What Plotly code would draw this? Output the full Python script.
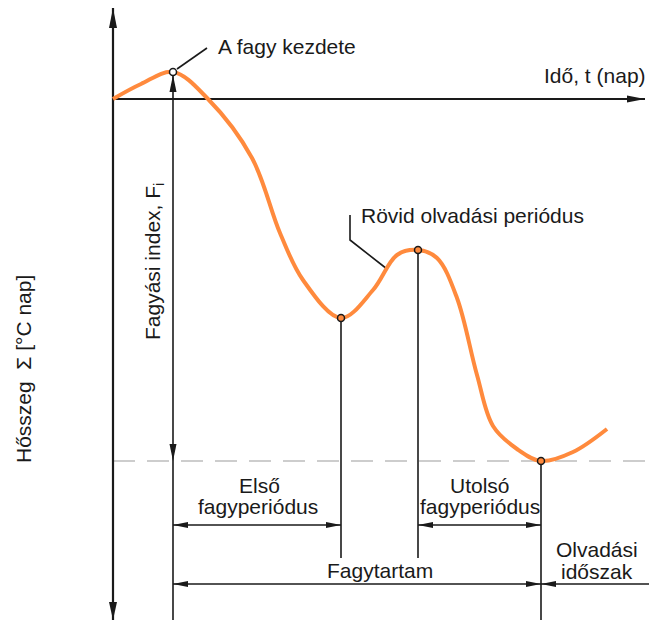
import plotly.graph_objects as go

# ---------------- data (time t in days, heat sum in °C·days) ----------------
curve_t = [0, 7, 15, 23.75, 34.75, 41.75, 47.5, 57, 65, 71, 76.25, 81, 86, 91, 95, 101, 107,
           115, 123.5]
curve_s = [0, 7.5, 13.5, 0, -29.5, -67, -90.5, -109.5, -95.5, -78, -75.5, -79.5, -99.5, -138,
           -163.5, -175, -181, -176.5, -165]

# key events: frost start, end of first frost period, top of short thaw, deepest point
event_names = ["A fagy kezdete", "first_min", "thaw_peak", "season_min"]
event_t = [15, 57, 76.25, 107]
event_s = [13.5, -109.5, -75.5, -181]

# ---------------- layout constants ----------------
PX_PER_T = 4.0
PX_PER_S = 2.0
X_RANGE = [-113 / PX_PER_T, (649 - 113) / PX_PER_T]
Y_RANGE = [(99 - 623) / PX_PER_S, 99 / PX_PER_S]

Y_AXIS_TOP = 45.5
Y_AXIS_BOT = -260.5
X_AXIS_END = 133
LEVEL_PERIODS = -213
LEVEL_DURATION = -242.5
VLINE_END = -229.5

INK = "#1a1a1a"
ORANGE = "#FF8A3D"
FONT = "Liberation Sans, Arial, sans-serif"
FS = 21

fig = go.Figure()
shapes = []


def line(ts, ss, width=1.6, color=INK, dash=None):
    fig.add_trace(go.Scatter(x=ts, y=ss, mode="lines", hoverinfo="skip",
                             line=dict(color=color, width=width, dash=dash)))


def head(t, s, direction, L=16, w=3.5):
    dx, dy = {"up": (0, -1), "down": (0, 1), "left": (-1, 0), "right": (1, 0)}[direction]
    bx, by = -L * dx, -L * dy
    qx, qy = -dy, dx
    rel = [(0, 0), (bx + w * qx, by + w * qy), (bx - w * qx, by - w * qy)]
    pts = [(t + rx / PX_PER_T, s - ry / PX_PER_S) for rx, ry in rel]
    path = "M{},{} L{},{} L{},{} Z".format(*[v for p in pts for v in p])
    shapes.append(dict(type="path", path=path, xref="x", yref="y",
                       fillcolor=INK, line=dict(width=0)))


t0, t1, t2, t3 = event_t
s0, s1, s2, s3 = event_s

# dashed reference line at the lowest heat sum
line([0, X_RANGE[1]], [s3, s3], width=1.6, color="#BDBDBD", dash="22px,12px")

# axes
line([0, 0], [Y_AXIS_TOP, Y_AXIS_BOT], width=2.2)
head(0, Y_AXIS_TOP, "up", L=20, w=4)
head(0, Y_AXIS_BOT, "down", L=18, w=4)
line([0, X_AXIS_END], [0, 0], width=2.2)
head(X_AXIS_END, 0, "right", L=18, w=3.5)

# frost index
line([t0, t0], [s0, Y_AXIS_BOT])
head(t0, s0 - 1.5, "up", L=17, w=3.5)
head(t0, s3, "down", L=17, w=3.5)

# vertical markers
line([t1, t1], [s1, VLINE_END])
line([t2, t2], [s2, VLINE_END])
line([t3, t3], [s3, Y_AXIS_BOT])

# period dimension arrows
line([t0, t1], [LEVEL_PERIODS, LEVEL_PERIODS])
head(t0, LEVEL_PERIODS, "left", L=15, w=3)
head(t1, LEVEL_PERIODS, "right", L=15, w=3)
line([t2, t3], [LEVEL_PERIODS, LEVEL_PERIODS])
head(t2, LEVEL_PERIODS, "left", L=15, w=3)
head(t3, LEVEL_PERIODS, "right", L=15, w=3)
line([t0, t3], [LEVEL_DURATION, LEVEL_DURATION])
head(t0, LEVEL_DURATION, "left", L=15, w=3)
head(t3, LEVEL_DURATION, "right", L=15, w=3)
line([t3, X_RANGE[1]], [LEVEL_DURATION, LEVEL_DURATION])
head(t3, LEVEL_DURATION, "left", L=15, w=3)

# leader lines
line([16, 23.5], [15, 25.5], width=1.6)
line([59.25, 59.25, 68.5], [-58, -70.5, -85], width=1.6)

# heat-sum curve
fig.add_trace(go.Scatter(x=curve_t, y=curve_s, mode="lines", hoverinfo="skip",
                         line=dict(color=ORANGE, width=4, shape="spline", smoothing=1.0)))

# event markers
fig.add_trace(go.Scatter(x=event_t, y=event_s, mode="markers", hoverinfo="skip",
                         marker=dict(size=7, color=["white", ORANGE, ORANGE, ORANGE],
                                     line=dict(color=INK, width=1.5))))


def T(px):
    return (px - 113) / PX_PER_T


def S(py):
    return (99 - py) / PX_PER_S


def label(text, px, py, xanchor="center", angle=0):
    fig.add_annotation(x=T(px), y=S(py), xref="x", yref="y", text=text, showarrow=False,
                       xanchor=xanchor, yanchor="middle", textangle=angle,
                       font=dict(family=FONT, size=FS, color=INK))


label("A fagy kezdete", 216, 46, "left")
label("Idő, t (nap)", 648, 75, "right")
label("Rövid olvadási periódus", 359, 215, "left")
label("Első", 259, 485)
label("fagyperiódus", 258, 506)
label("Utolsó", 480, 485)
label("fagyperiódus", 480, 506)
label("Fagytartam", 380, 570)
label("Olvadási", 597, 549)
label("időszak", 597, 571)
label("Fagyási index, F<sub>i</sub>", 154, 262, angle=-90)
label("Hősszeg  Σ [°C nap]", 23, 369, angle=-90)

fig.update_layout(
    width=649, height=623, margin=dict(l=0, r=0, t=0, b=0),
    paper_bgcolor="white", plot_bgcolor="white", showlegend=False,
    xaxis=dict(range=X_RANGE, visible=False, fixedrange=True),
    yaxis=dict(range=Y_RANGE, visible=False, fixedrange=True),
    shapes=shapes,
)

fig.write_html("out.html", config={"displayModeBar": False},
               post_script="document.body.style.margin='0';document.body.style.overflow='hidden';")
